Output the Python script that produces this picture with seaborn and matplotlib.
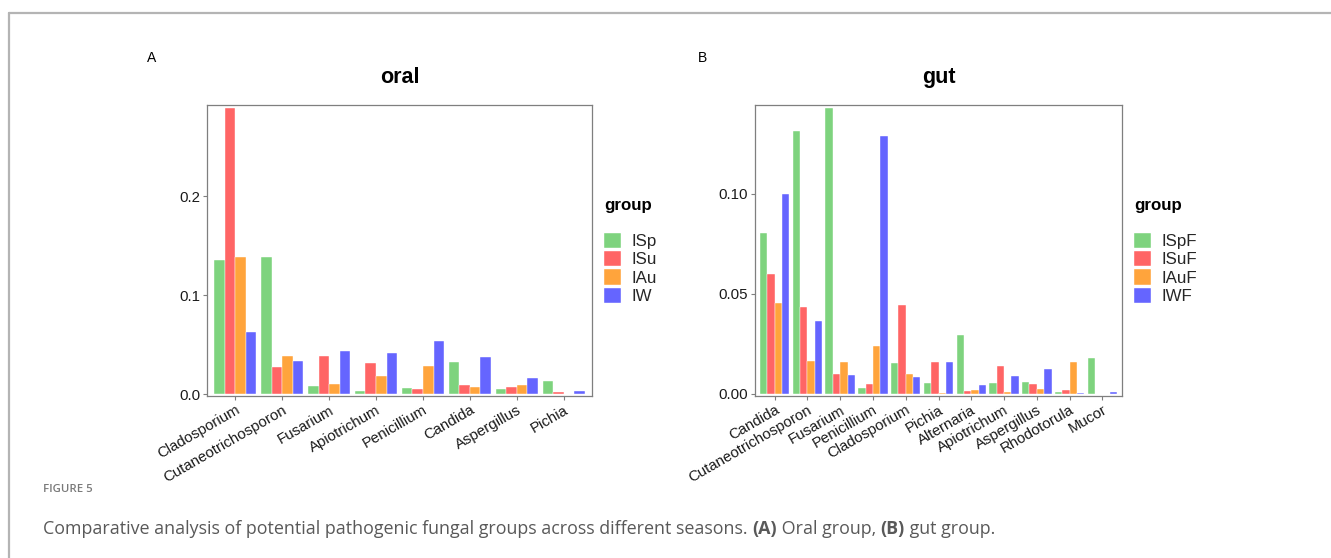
import matplotlib
matplotlib.use("Agg")
import matplotlib.pyplot as plt
from matplotlib.lines import Line2D
import seaborn as sns
import pandas as pd

# ---------------- data ----------------
oral_genera = ["Cladosporium", "Cutaneotrichosporon", "Fusarium", "Apiotrichum",
               "Penicillium", "Candida", "Aspergillus", "Pichia"]
oral_groups = ["ISp", "ISu", "IAu", "IW"]
oral_ISp = [0.1354, 0.1384, 0.0084, 0.0034, 0.0064, 0.0323, 0.0050, 0.0135]
oral_ISu = [0.2889, 0.0269, 0.0387, 0.0313, 0.0047, 0.0094, 0.0074, 0.0020]
oral_IAu = [0.1380, 0.0380, 0.0098, 0.0182, 0.0279, 0.0074, 0.0094, 0.0000]
oral_IW = [0.0626, 0.0337, 0.0434, 0.0414, 0.0539, 0.0377, 0.0165, 0.0027]

gut_genera = ["Candida", "Cutaneotrichosporon", "Fusarium", "Penicillium",
              "Cladosporium", "Pichia", "Alternaria", "Apiotrichum",
              "Aspergillus", "Rhodotorula", "Mucor"]
gut_groups = ["ISpF", "ISuF", "IAuF", "IWF"]
gut_ISpF = [0.0802, 0.1313, 0.1428, 0.0030, 0.0156, 0.0053, 0.0293, 0.0053, 0.0058, 0.0010, 0.0181]
gut_ISuF = [0.0599, 0.0433, 0.0100, 0.0048, 0.0444, 0.0158, 0.0015, 0.0138, 0.0048, 0.0020, 0.0002]
gut_IAuF = [0.0456, 0.0165, 0.0160, 0.0240, 0.0098, 0.0003, 0.0020, 0.0010, 0.0025, 0.0161, 0.0001]
gut_IWF = [0.0997, 0.0363, 0.0095, 0.1288, 0.0085, 0.0158, 0.0047, 0.0088, 0.0123, 0.0005, 0.0010]

colors = ["#7ED37E", "#FF6565", "#FFA43C", "#6565FF"]


def long_df(genera, groups, series):
    rows = []
    for g, vals in zip(groups, series):
        for gen, v in zip(genera, vals):
            rows.append({"genus": gen, "group": g, "value": v})
    return pd.DataFrame(rows)


oral_df = long_df(oral_genera, oral_groups, [oral_ISp, oral_ISu, oral_IAu, oral_IW])
gut_df = long_df(gut_genera, gut_groups, [gut_ISpF, gut_ISuF, gut_IAuF, gut_IWF])

# ---------------- figure ----------------
sns.set_theme(style="white")
plt.rcParams["font.family"] = ["Liberation Sans", "DejaVu Sans"]

W, H = 1331, 558
fig = plt.figure(figsize=(W / 100, H / 100), dpi=100)


def fx(px):
    return px / W


def fy(py):
    return 1 - py / H


panels = [
    dict(df=oral_df, genera=oral_genera, groups=oral_groups, title="oral", letter="A",
         box=(207, 105, 592, 396), ylim=(-0.002, 0.292), yticks=[0.0, 0.1, 0.2],
         yfmt="{:.1f}", letter_xy=(147, 58), leg_x=604),
    dict(df=gut_df, genera=gut_genera, groups=gut_groups, title="gut", letter="B",
         box=(755, 105, 1122, 396), ylim=(-0.001, 0.1443), yticks=[0.0, 0.05, 0.10],
         yfmt="{:.2f}", letter_xy=(698, 58), leg_x=1134),
]

spine_col = "#7f7f7f"
for p in panels:
    x0, y0, x1, y1 = p["box"]
    ax = fig.add_axes([fx(x0), fy(y1), fx(x1) - fx(x0), (y1 - y0) / H])
    sns.barplot(data=p["df"], x="genus", y="value", hue="group", order=p["genera"],
                hue_order=p["groups"], palette=colors, saturation=1, width=0.9, gap=0,
                edgecolor="white", linewidth=0.3, ax=ax, errorbar=None)
    n = len(p["genera"])
    ax.set_xlim(-0.6, n - 0.4)
    ax.set_ylim(*p["ylim"])
    ax.set_yticks(p["yticks"])
    ax.set_yticklabels([p["yfmt"].format(v) for v in p["yticks"]])
    ax.set_xlabel("")
    ax.set_ylabel("")
    for s in ax.spines.values():
        s.set_color(spine_col)
        s.set_linewidth(0.9)
    ax.tick_params(axis="both", length=3, width=0.8, color=spine_col,
                   labelcolor="#1a1a1a", labelsize=10.8, pad=2, bottom=True, left=True)
    for lab in ax.get_xticklabels():
        lab.set_rotation(30)
        lab.set_ha("right")
        lab.set_va("top")
        lab.set_rotation_mode("anchor")
    ax.set_title(p["title"], fontsize=15.5, fontweight="bold", pad=16, color="black")

    handles, labels = ax.get_legend_handles_labels()
    if ax.get_legend() is not None:
        ax.get_legend().remove()
    fig.legend(handles, labels, loc="upper left",
               bbox_to_anchor=(fx(p["leg_x"]), fy(232.5)), bbox_transform=fig.transFigure,
               frameon=False, fontsize=12.2, handlelength=1.0, handleheight=1.0,
               handletextpad=0.6, labelspacing=0.12, borderpad=0, borderaxespad=0)
    fig.text(fx(p["leg_x"]), fy(205.5), "group", fontsize=12.2, fontweight="bold",
             ha="left", va="center", color="black")
    fig.text(fx(p["letter_xy"][0]), fy(p["letter_xy"][1]), p["letter"], fontsize=10,
             ha="left", va="center", color="black")

# frame lines
frame_col = "#b4b4b4"
fig.add_artist(Line2D([fx(9), 1.0], [fy(13), fy(13)], color=frame_col, lw=1.6,
                      transform=fig.transFigure))
fig.add_artist(Line2D([fx(9), fx(9)], [fy(13), 0.0], color=frame_col, lw=1.6,
                      transform=fig.transFigure))

# caption
cap_font = ["Open Sans", "DejaVu Sans"]
fig.text(fx(43), fy(490), "FIGURE 5", fontsize=8.2, fontweight="semibold",
         family=cap_font, color="#7a7a7a", ha="left", va="center")

pieces = [("Comparative analysis of potential pathogenic fungal groups across different seasons. ", "normal"),
          ("(A)", "bold"), (" Oral group, ", "normal"), ("(B)", "bold"), (" gut group.", "normal")]
renderer = fig.canvas.get_renderer()
xpos = 43
for txt, wt in pieces:
    t = fig.text(fx(xpos), fy(529), txt, fontsize=12.9, fontweight=wt, family=cap_font,
                 color="#595959", ha="left", va="center")
    bb = t.get_window_extent(renderer=renderer)
    xpos += bb.width

fig.savefig("out.png", dpi=100)
